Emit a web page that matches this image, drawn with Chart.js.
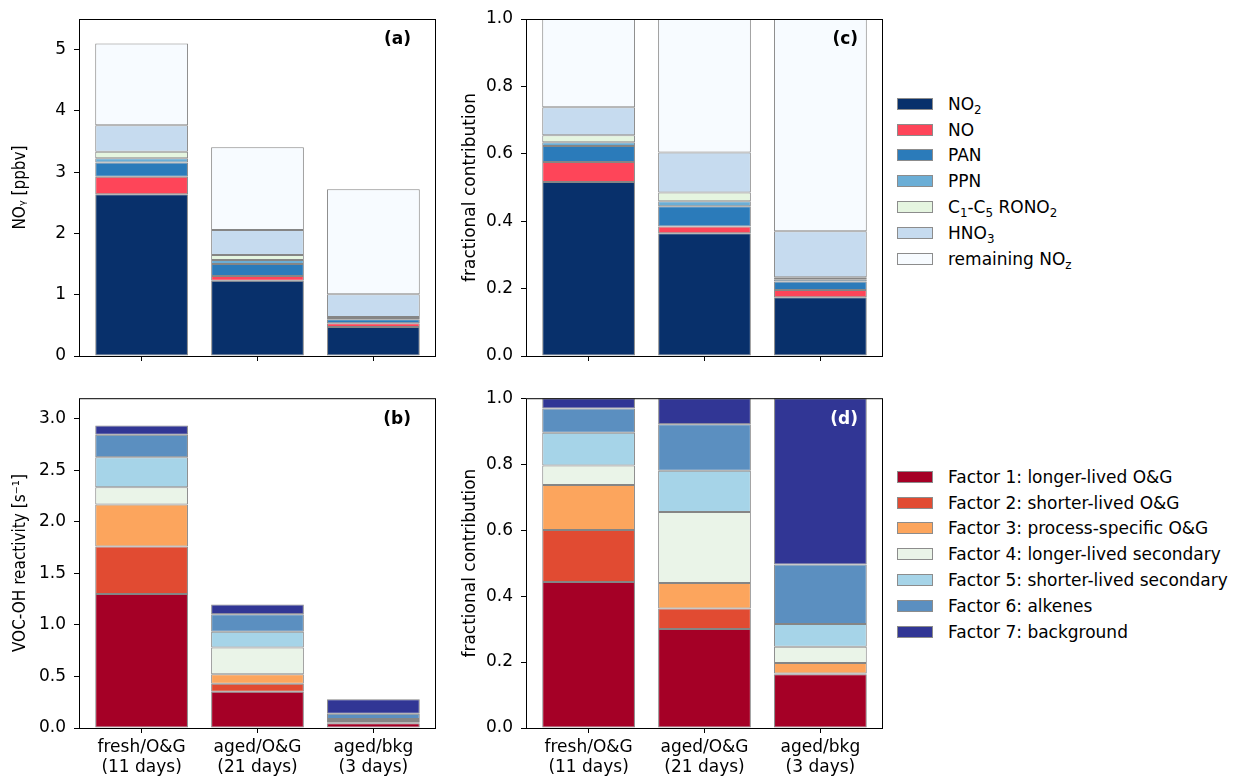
<!DOCTYPE html>
<html>
<head>
<meta charset="utf-8">
<script src="https://cdn.jsdelivr.net/npm/chart.js@4.4.1/dist/chart.umd.min.js"></script>
<style>
  body { margin: 0; background: #fff; font-family: 'DejaVu Sans', sans-serif; }
  #wrap { position: relative; width: 1241px; height: 777px; overflow: hidden; }
  canvas { position: absolute; }
  .legend { position: absolute; left: 897px; font-size: 17px; color: #000; }
  .legend .row { display: flex; align-items: center; height: 25.8px; white-space: nowrap; }
  .legend .box { width: 34px; height: 10px; border: 1px solid #8c8c8c; margin-right: 15px; flex: none; }
  .legend sub { font-size: 0.7em; vertical-align: -0.3em; line-height: 0; }
</style>
</head>
<body>
<div id="wrap">
  <canvas id="panel-a" width="450" height="380" style="left:0;top:0"></canvas>
  <canvas id="panel-b" width="450" height="397" style="left:0;top:380px"></canvas>
  <canvas id="panel-c" width="450" height="380" style="left:447px;top:0"></canvas>
  <canvas id="panel-d" width="450" height="397" style="left:447px;top:380px"></canvas>
  <div class="legend" id="legend-noy" style="top:91px"></div>
  <div class="legend" id="legend-voc" style="top:464px"></div>
</div>
<script>
// categories (x axis)
const categories = [['fresh/O&G', '(11 days)'], ['aged/O&G', '(21 days)'], ['aged/bkg', '(3 days)']];

// NOy species, bottom to top of the stack
const noySpecies = ['NO<sub>2</sub>', 'NO', 'PAN', 'PPN', 'C<sub>1</sub>-C<sub>5</sub> RONO<sub>2</sub>', 'HNO<sub>3</sub>', 'remaining NO<sub>z</sub>'];
const noyColors = ['#08306b', '#fe4559', '#2b7bba', '#6baed6', '#e5f5e0', '#c6dbef', '#f7fbff'];

// (a) NOy mixing ratios [ppbv]
const no2Ppb = [2.638, 1.229, 0.473];
const noPpb = [0.289, 0.077, 0.060];
const panPpb = [0.233, 0.195, 0.068];
const ppnPpb = [0.066, 0.066, 0.019];
const ronoPpb = [0.109, 0.081, 0.016];
const hno3Ppb = [0.430, 0.408, 0.370];
const remNozPpb = [1.335, 1.349, 1.714];

// (c) NOy fractional contribution
const no2Frac = [0.516, 0.364, 0.174];
const noFrac = [0.060, 0.020, 0.022];
const panFrac = [0.047, 0.060, 0.025];
const ppnFrac = [0.011, 0.015, 0.007];
const ronoFrac = [0.021, 0.026, 0.006];
const hno3Frac = [0.083, 0.119, 0.136];
const remNozFrac = [0.262, 0.396, 0.630];

// VOC factors, bottom to top of the stack
const vocFactors = ['Factor 1: longer-lived O&G', 'Factor 2: shorter-lived O&G', 'Factor 3: process-specific O&G',
  'Factor 4: longer-lived secondary', 'Factor 5: shorter-lived secondary', 'Factor 6: alkenes', 'Factor 7: background'];
const vocColors = ['#a50026', '#e14b32', '#fca55d', '#eaf4e8', '#a6d4e8', '#5b8fc0', '#313695'];

// (b) VOC-OH reactivity [s-1]
const f1React = [1.300, 0.351, 0.045];
const f2React = [0.460, 0.079, 0.001];
const f3React = [0.408, 0.092, 0.009];
const f4React = [0.167, 0.260, 0.014];
const f5React = [0.292, 0.152, 0.019];
const f6React = [0.218, 0.170, 0.050];
const f7React = [0.089, 0.095, 0.140];

// (d) VOC-OH reactivity fractional contribution
const f1Frac = [0.443, 0.300, 0.163];
const f2Frac = [0.157, 0.062, 0.002];
const f3Frac = [0.137, 0.078, 0.032];
const f4Frac = [0.059, 0.215, 0.049];
const f5Frac = [0.099, 0.125, 0.069];
const f6Frac = [0.074, 0.141, 0.181];
const f7Frac = [0.031, 0.079, 0.504];

Chart.defaults.font.family = "'DejaVu Sans', sans-serif";
Chart.defaults.font.size = 17;
Chart.defaults.color = '#000';

const stripTags = s => s.replace(/<[^>]+>/g, '');

// black box round the plot area, plus the (a)/(b)... tag
const framePlugin = {
  id: 'frame',
  afterDraw(chart, args, opts) {
    const { ctx, chartArea: a } = chart;
    ctx.save();
    ctx.strokeStyle = '#000';
    ctx.lineWidth = 1;
    ctx.strokeRect(a.left + 0.5, a.top + 0.5, a.right - a.left - 1, a.bottom - a.top);
    ctx.font = "bold 17px 'DejaVu Sans'";
    ctx.fillStyle = opts.color || '#000';
    ctx.textAlign = 'right';
    ctx.textBaseline = 'middle';
    ctx.fillText(opts.tag, a.right - 25, a.top + 21);
    ctx.restore();
  }
};

function makePanel(id, series, names, colors, cfg) {
  const datasets = series.map((vals, i) => ({
    label: stripTags(names[i]),
    data: vals.map((v, j) => ({ x: j, y: v })),
    backgroundColor: colors[i],
    borderColor: '#858585',
    borderWidth: 1,
    borderSkipped: false,
    barPercentage: 0.8,
    categoryPercentage: 1
  }));

  return new Chart(document.getElementById(id), {
    type: 'bar',
    data: { datasets },
    plugins: [framePlugin],
    options: {
      responsive: false,
      animation: false,
      layout: { padding: { top: cfg.padTop, right: 14, left: 0, bottom: 0 } },
      plugins: {
        legend: { display: false },
        tooltip: { enabled: false },
        frame: { tag: cfg.tag, color: cfg.tagColor }
      },
      scales: {
        x: {
          type: 'linear',
          stacked: true,
          offset: false,
          min: -0.54,
          max: 2.54,
          afterFit: s => { s.height = cfg.xHeight; },
          border: { display: false },
          grid: { offset: false, drawOnChartArea: false, drawTicks: true, tickLength: 5, color: '#000' },
          ticks: {
            display: cfg.showX,
            stepSize: 1,
            includeBounds: false,
            autoSkip: false,
            maxRotation: 0,
            padding: 4,
            callback: v => categories[v] || ''
          }
        },
        y: {
          stacked: true,
          min: 0,
          max: cfg.yMax,
          afterFit: s => { s.width = 79; },
          border: { display: false },
          grid: { drawOnChartArea: false, drawTicks: true, tickLength: 5, color: '#000' },
          title: { display: true, text: cfg.yTitle, padding: { top: cfg.titlePad, bottom: 0 }, font: cfg.titleFont },
          ticks: {
            stepSize: cfg.yStep,
            includeBounds: false,
            padding: 8,
            callback: v => cfg.yDigits ? v.toFixed(cfg.yDigits) : v
          }
        }
      }
    }
  });
}

makePanel('panel-a', [no2Ppb, noPpb, panPpb, ppnPpb, ronoPpb, hno3Ppb, remNozPpb], noySpecies, noyColors, {
  tag: '(a)', padTop: 19, xHeight: 24, showX: false, yMax: 5.5, yStep: 1, yDigits: 0,
  yTitle: 'NOᵧ [ppbv]', titlePad: 10, titleFont: { family: "'DejaVu Sans Condensed'", size: 17 }
});
makePanel('panel-b', [f1React, f2React, f3React, f4React, f5React, f6React, f7React], vocFactors, vocColors, {
  tag: '(b)', padTop: 11, xHeight: 49, showX: true, yMax: 3.2, yStep: 0.5, yDigits: 1,
  yTitle: 'VOC-OH reactivity [s⁻¹]', titlePad: 10, titleFont: { family: "'DejaVu Sans Condensed'", size: 17 }
});
makePanel('panel-c', [no2Frac, noFrac, panFrac, ppnFrac, ronoFrac, hno3Frac, remNozFrac], noySpecies, noyColors, {
  tag: '(c)', padTop: 19, xHeight: 24, showX: false, yMax: 1, yStep: 0.2, yDigits: 1,
  yTitle: 'fractional contribution', titlePad: 13
});
makePanel('panel-d', [f1Frac, f2Frac, f3Frac, f4Frac, f5Frac, f6Frac, f7Frac], vocFactors, vocColors, {
  tag: '(d)', tagColor: '#fff', padTop: 11, xHeight: 49, showX: true, yMax: 1, yStep: 0.2, yDigits: 1,
  yTitle: 'fractional contribution', titlePad: 13
});

function buildLegend(el, names, colors) {
  names.forEach((name, i) => {
    const row = document.createElement('div');
    row.className = 'row';
    const box = document.createElement('span');
    box.className = 'box';
    box.style.background = colors[i];
    const label = document.createElement('span');
    label.innerHTML = name;
    row.appendChild(box);
    row.appendChild(label);
    el.appendChild(row);
  });
}

buildLegend(document.getElementById('legend-noy'), noySpecies, noyColors);
buildLegend(document.getElementById('legend-voc'), vocFactors, vocColors);
</script>
</body>
</html>
